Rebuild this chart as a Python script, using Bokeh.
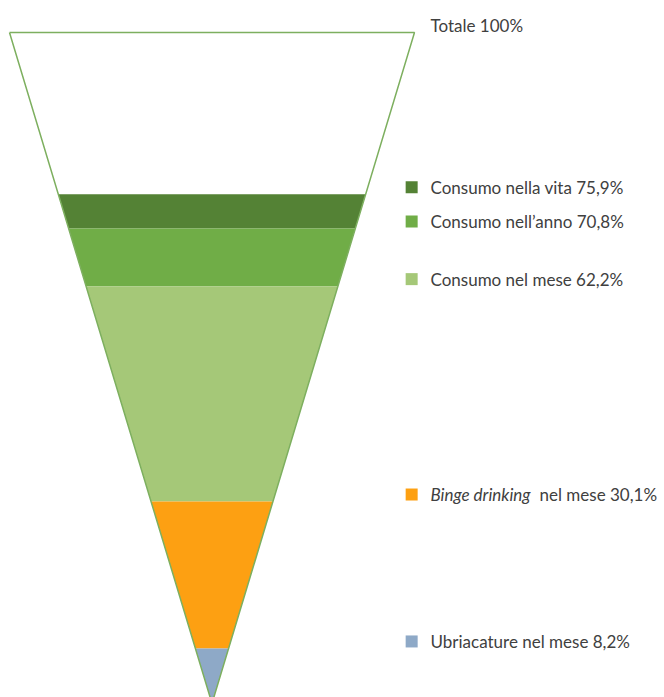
from bokeh.plotting import figure
from bokeh.models import ColumnDataSource
from bokeh.core.properties import value
from bokeh.transform import dodge
from bokeh.embed import file_html
from bokeh.resources import INLINE

# ---- data ----
levels = [1.0, 0.759, 0.708, 0.622, 0.301, 0.082]
labels = ["Totale 100%", "Consumo nella vita 75,9%", "Consumo nell\u2019anno 70,8%",
          "Consumo nel mese 62,2%", None, "Ubriacature nel mese 8,2%"]
binge_italic = "Binge drinking"
binge_rest = "nel mese 30,1%"
colors = ["#FFFFFF", "#548235", "#70AD47", "#A5C878", "#FDA012", "#8EA9C7"]

FONT = "Lato"
TXT = "#404040"
OUTLINE = "#7DAF5F"
FS = "17px"

# ---- geometry from values ----
bounds = levels + [0.0]
xs, ys = [], []
for i in range(len(levels)):
    hi, lo = bounds[i], bounds[i + 1]
    xs.append([-hi / 2, hi / 2, lo / 2, -lo / 2])
    ys.append([hi, hi, lo, lo])

W, H = 664, 697
Y0, Y1 = 0.0089, 1.0477
p = figure(width=W, height=H, x_range=(-0.5222, 1.1173), y_range=(Y0, Y1),
           output_backend="svg", toolbar_location=None, min_border=0)
p.axis.visible = False
p.grid.visible = False
p.outline_line_color = None
p.background_fill_color = "white"
p.border_fill_color = "white"

p.patches(xs, ys, fill_color=colors, line_color=None)
p.line([-0.5, 0.5, 0.0, -0.5], [1.0, 1.0, 0.0, 1.0], line_color=OUTLINE, line_width=1.5)

sq_x = 0.493
lab_x = 0.5395
lift = 7 * (Y1 - Y0) / H  # 7 px above each band edge

src_sq = ColumnDataSource(dict(x=[sq_x] * (len(levels) - 1), y=levels[1:], c=colors[1:]))
p.scatter("x", dodge("y", lift), source=src_sq, marker="square", size=12,
          fill_color="c", line_color=None)

tl = [(l, v) for l, v in zip(labels, levels) if l is not None]
src_t = ColumnDataSource(dict(x=[lab_x] * len(tl), y=[v for _, v in tl], t=[l for l, _ in tl]))
p.text("x", "y", text="t", source=src_t, text_font=value(FONT), text_font_size=FS,
       text_color=TXT, text_baseline="middle", text_align="left", y_offset=-7)
p.text([lab_x], [levels[4]], text=[binge_italic], text_font=value(FONT), text_font_size=FS,
       text_font_style="italic", text_color=TXT, text_baseline="middle", text_align="left", y_offset=-7)
p.text([lab_x], [levels[4]], text=[binge_rest], text_font=value(FONT), text_font_size=FS,
       text_color=TXT, text_baseline="middle", text_align="left", y_offset=-7, x_offset=109)

open("out.html", "w").write(file_html(p, INLINE))
